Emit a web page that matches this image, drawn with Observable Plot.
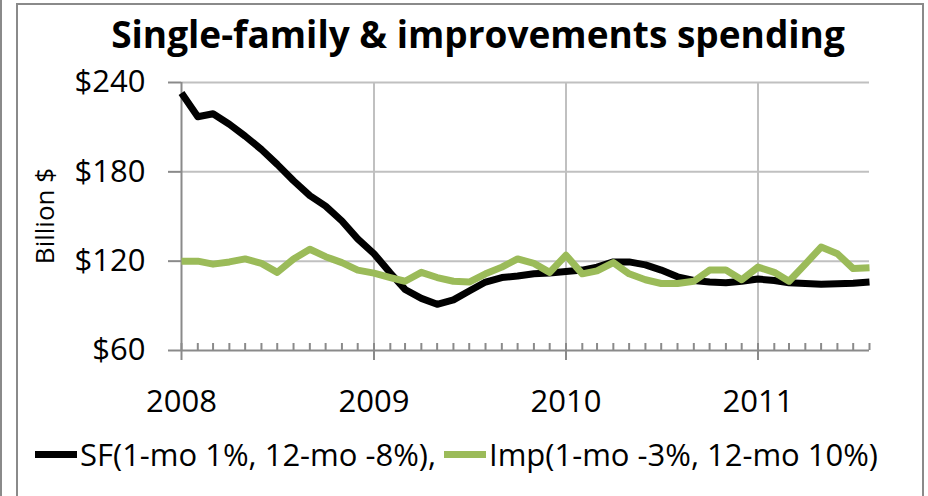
<!DOCTYPE html>
<html><head><meta charset="utf-8">
<script src="https://cdn.jsdelivr.net/npm/d3@7"></script>
<script src="https://cdn.jsdelivr.net/npm/@observablehq/plot@0.6"></script>
<style>
html,body{margin:0;padding:0;background:#fff;}
#root{position:relative;width:928px;height:496px;overflow:hidden;font-family:"Open Sans",sans-serif;color:#000;}
#frame{position:absolute;left:16px;top:3px;width:908px;height:500px;border:2px solid #8a8a8a;box-sizing:border-box;}
#edge{position:absolute;left:0;top:0;width:2px;height:496px;background:#8a8a8a;}
#title{position:absolute;left:28px;width:900px;top:7px;text-align:center;font-weight:bold;font-size:37px;line-height:54px;white-space:nowrap;}
#ylab{position:absolute;left:44px;top:216px;transform:translate(-50%,-50%) rotate(-90deg);font-size:26px;line-height:30px;white-space:nowrap;}
#legend{position:absolute;left:35px;top:432px;font-size:31px;line-height:44px;white-space:nowrap;display:flex;align-items:center;}
.sw{display:inline-block;width:42px;height:7px;margin-right:3px;}
.item{display:flex;align-items:center;}
#plot{position:absolute;left:0;top:0;}
</style></head><body><div id="root"><div id="edge"></div><div id="frame"></div><div id="plot"></div><div id="title"></div><div id="ylab"></div><div id="legend"></div></div>
<script>
const titleText = "Single-family & improvements spending";
const yLabel = "Billion $";
const startMonth = new Date(Date.UTC(2008, 0, 1));
const endMonth = new Date(Date.UTC(2011, 7, 1));
const months = d3.utcMonth.range(startMonth, d3.utcMonth.offset(endMonth, 1));
const sfValues = [
  233, 217, 219, 212, 204, 195, 185, 174, 164, 157, 147, 135,
  125, 112, 101, 95, 91, 94, 100, 106, 109, 110, 111.5, 112,
  113, 114, 116, 119.5, 119.5, 117.5, 114, 109.5, 107, 106, 105.5, 106.5,
  108, 107, 105.5, 105, 104.5, 104.8, 105.2, 106
];
const impValues = [
  120, 120, 118, 119.5, 121.5, 118.5, 112.5, 121.5, 128, 123, 119, 114,
  112, 109, 106.5, 112.5, 109, 106.5, 106, 111.5, 116, 121.5, 118.5, 112.5,
  124, 111.5, 113.5, 119, 111.5, 107.5, 105, 105, 106.5, 114, 114, 107.5,
  116, 112.5, 106.5, 118, 129.5, 125, 115, 115.5
];
const yTicks = [60, 120, 180, 240];
const yearLabels = ["2008", "2009", "2010", "2011"];
const seriesNames = ["SF(1-mo 1%, 12-mo -8%),", "Imp(1-mo -3%, 12-mo 10%)"];
const seriesColors = ["#000000", "#9bbb59"];

const rows = months.map((d, i) => ({date: d, sf: sfValues[i], imp: impValues[i]}));
const yearDates = yearLabels.map(y => new Date(Date.UTC(+y, 0, 1)));
const axisColor = "#8a8a8a";
const gridColor = "#c0c0c0";

const chart = Plot.plot({
  width: 928,
  height: 496,
  marginLeft: 181,
  marginRight: 59,
  marginTop: 82,
  marginBottom: 146,
  style: {fontFamily: "'Open Sans', sans-serif", fontSize: "31px", background: "transparent", color: "#000", overflow: "visible"},
  x: {type: "utc", domain: [startMonth, endMonth]},
  y: {domain: [60, 240]},
  marks: [
    Plot.gridY(yTicks.slice(1), {stroke: gridColor, strokeOpacity: 1, strokeWidth: 2}),
    Plot.gridX(yearDates.slice(1), {stroke: gridColor, strokeOpacity: 1, strokeWidth: 2}),
    Plot.axisX(months, {tickSize: -7, tickFormat: () => "", stroke: axisColor, strokeWidth: 2, label: null}),
    Plot.axisX(yearDates, {tickSize: 10, tickPadding: 29, tickFormat: d => yearLabels[yearDates.findIndex(y => +y === +d)], stroke: axisColor, strokeWidth: 2, fill: "#000", fontSize: 31, label: null}),
    Plot.axisY(yTicks, {tickSize: 13, tickPadding: 23, tickFormat: d => "$" + d, stroke: axisColor, strokeWidth: 2, fill: "#000", fontSize: 31, label: null}),
    Plot.ruleX([startMonth], {stroke: axisColor, strokeWidth: 2}),
    Plot.ruleY([60], {stroke: axisColor, strokeWidth: 2}),
    Plot.line(rows, {x: "date", y: "sf", stroke: seriesColors[0], strokeWidth: 7, strokeLinejoin: "round", strokeLinecap: "butt"}),
    Plot.line(rows, {x: "date", y: "imp", stroke: seriesColors[1], strokeWidth: 7, strokeLinejoin: "round", strokeLinecap: "butt"})
  ]
});
document.getElementById("plot").appendChild(chart);
document.getElementById("title").textContent = titleText;
document.getElementById("ylab").textContent = yLabel;
const legend = document.getElementById("legend");
seriesNames.forEach((name, i) => {
  const item = document.createElement("span");
  item.className = "item";
  if (i > 0) item.style.marginLeft = "8px";
  const sw = document.createElement("span");
  sw.className = "sw";
  sw.style.background = seriesColors[i];
  const t = document.createElement("span");
  t.textContent = name;
  item.appendChild(sw);
  item.appendChild(t);
  legend.appendChild(item);
});
</script></body></html>
